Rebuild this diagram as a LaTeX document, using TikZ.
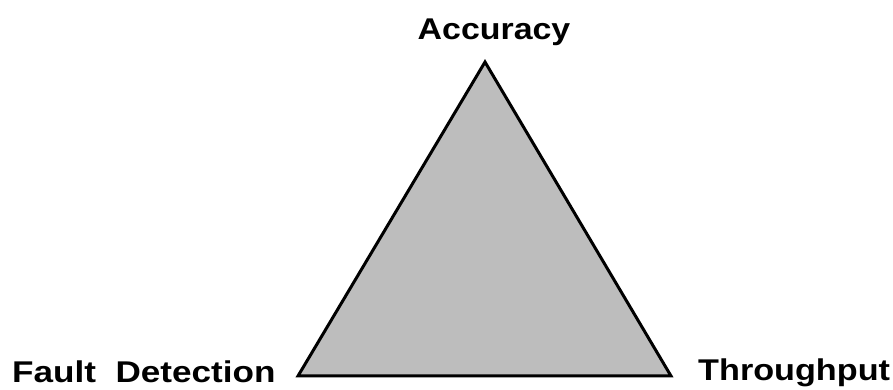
\documentclass[tikz,border=0pt]{standalone}
\usepackage{fontspec}
\setmainfont{Liberation Sans}
\begin{document}
\begin{tikzpicture}[x=1pt,y=1pt,
  lbl/.style={font=\bfseries\fontsize{30}{36}\selectfont, inner sep=0pt, anchor=base}]
\useasboundingbox (0,0) rectangle (893,390);
\coordinate (top) at (485,328);
\coordinate (bl) at (298,14);
\coordinate (br) at (671,14);
\draw[line width=3pt, line join=miter, fill=black!26] (top) -- (bl) -- (br) -- cycle;
\node[lbl] (acc) at (494,350) {\scalebox{1.13}[1]{Accuracy}};
\node[lbl, anchor=base west] (fd) at (12,7) {\scalebox{1.17}[1]{Fault\ \ Detection}};
\node[lbl, anchor=base west] (tp) at (698,9) {\scalebox{1.14}[1]{Throughput}};
\end{tikzpicture}
\end{document}
